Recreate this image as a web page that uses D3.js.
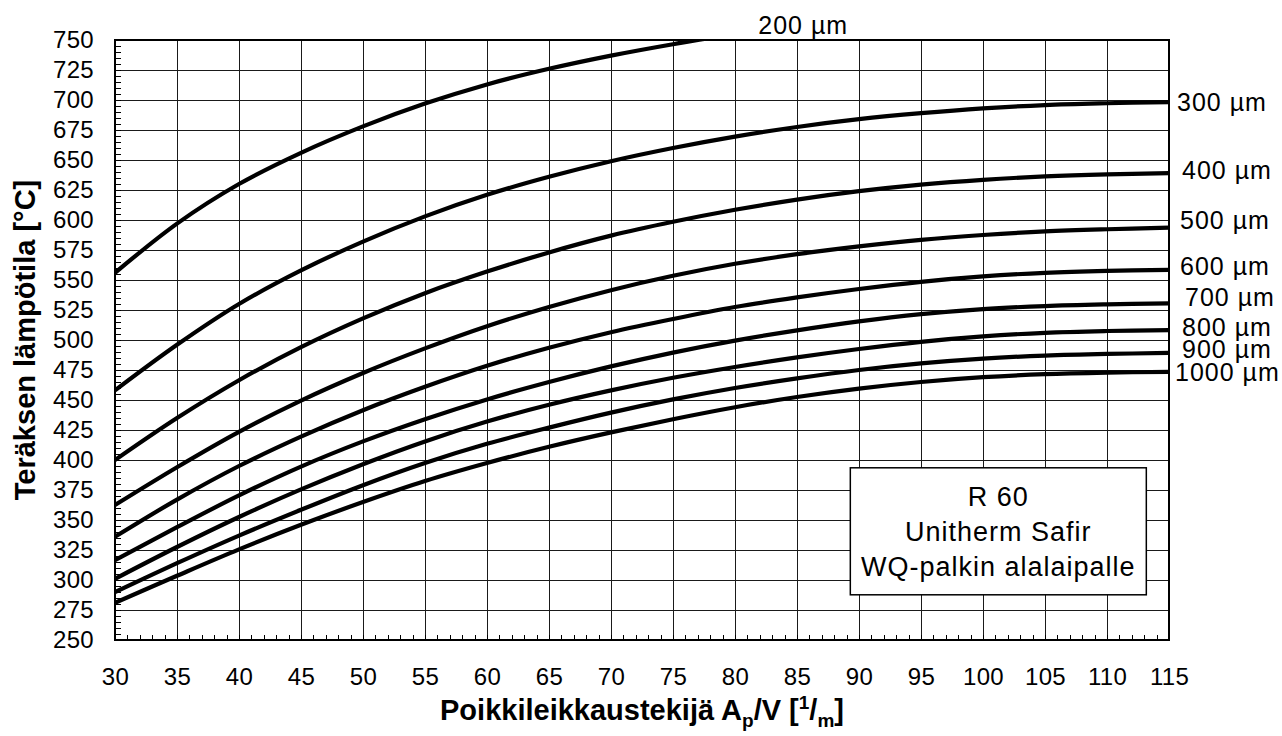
<!DOCTYPE html>
<html lang="fi">
<head>
<meta charset="UTF-8" />
<title>R 60 Unitherm Safir - WQ-palkin alalaipalle</title>
<script src="https://cdn.jsdelivr.net/npm/d3@7"></script>
<style>
  body { margin: 0; background: #fff; }
  svg { display: block; font-family: "Liberation Sans", Arial, Helvetica, sans-serif; }
  .grid line { stroke: #1a1a1a; stroke-width: 1; shape-rendering: crispEdges; }
  .grid path, .ticklab path, .ticklab line, .minor path { display: none; }
  .ticklab text { font-size: 24px; fill: #000; letter-spacing: 0.3px; }
  .minor line { stroke: #000; stroke-width: 1; shape-rendering: crispEdges; }
  .curve { fill: none; stroke: #000; stroke-width: 4.2; stroke-linejoin: round; }
  .clabel { font-size: 25px; fill: #000; letter-spacing: 1px; }
  .axis-title { font-size: 29px; font-weight: bold; fill: #000; }
  .boxtext { font-size: 27px; fill: #000; letter-spacing: 1px; }
</style>
</head>
<body>
<svg id="chart" width="1282" height="736"></svg>
<script>
// Poikkileikkaustekijä (x) and steel temperature per coating thickness (y)
const apv = [30, 35, 40, 45, 50, 55, 60, 65, 70, 75, 80, 85, 90, 95, 100, 105, 110, 115];
const t200 = [556, 597, 630, 656, 678, 697, 713, 726, 737, 746.5, 755, null, null, null, null, null, null, null];
const t300 = [458, 496, 530, 558, 582, 603, 621, 636, 649, 660, 669.5, 677.5, 684, 689, 693, 695.8, 697.3, 698.3];
const t400 = [400, 435, 466.5, 494, 518, 539, 557, 573, 587, 598.5, 608.5, 617, 624, 629.5, 633.5, 636.3, 638, 639];
const t500 = [362.5, 394, 423.5, 449.5, 472.5, 493, 511.5, 527.5, 541.5, 553.5, 563.5, 571.5, 578, 583.5, 587.5, 590.5, 592.3, 593.6];
const t600 = [336, 367, 395, 419.5, 441.5, 461, 478.5, 493.5, 506.5, 517.5, 527.5, 535.5, 542.5, 548.5, 553, 556, 557.6, 558.4];
const t700 = [316.5, 344, 370.5, 394.5, 415.5, 434, 450.5, 465, 478, 489.5, 499.5, 508, 515.5, 521.5, 525.8, 528.3, 529.7, 530.6];
const t800 = [301, 327.5, 352.5, 375.5, 396.5, 415.5, 432, 446, 458, 468.5, 477.5, 485.5, 492.5, 498.5, 503, 506, 507.5, 508.3];
const t900 = [290, 314, 337, 358.5, 379, 397.5, 413.5, 427, 439.5, 450.5, 460, 468, 475, 480.5, 484.5, 487, 488.4, 489.2];
const t1000 = [281, 303.5, 325.5, 346, 365, 382.5, 397.5, 411, 423, 434, 444, 452.5, 459.5, 465, 469, 471.5, 472.8, 473.5];

const thicknessLabels = ["200 µm", "300 µm", "400 µm", "500 µm", "600 µm", "700 µm", "800 µm", "900 µm", "1000 µm"];
const xTicks = d3.range(30, 116, 5);
const yTicks = d3.range(250, 751, 25);
const boxLines = ["R 60", "Unitherm Safir", "WQ-palkin alalaipalle"];

const series = [t200, t300, t400, t500, t600, t700, t800, t900, t1000];

const svg = d3.select("#chart");
const margin = { top: 40, right: 113, bottom: 96, left: 115 };
const width = 1282 - margin.left - margin.right;
const height = 736 - margin.top - margin.bottom;

const x = d3.scaleLinear().domain([30, 115]).range([0, width]);
const y = d3.scaleLinear().domain([250, 750]).range([height, 0]);

svg.append("rect").attr("width", 1282).attr("height", 736).attr("fill", "#fff");

const g = svg.append("g").attr("transform", `translate(${margin.left},${margin.top})`);

// grid
g.append("g").attr("class", "grid")
  .attr("transform", `translate(0,${height})`)
  .call(d3.axisBottom(x).tickValues(xTicks).tickSize(-height).tickFormat(""));
g.append("g").attr("class", "grid")
  .call(d3.axisLeft(y).tickValues(yTicks).tickSize(-width).tickFormat(""));

// minor ticks on the inside of the frame
g.append("g").attr("class", "minor")
  .attr("transform", `translate(0,${height})`)
  .call(d3.axisBottom(x).tickValues(d3.range(30, 116, 1)).tickSize(-5).tickFormat(""));
g.append("g").attr("class", "minor")
  .call(d3.axisLeft(y).tickValues(d3.range(250, 751, 5)).tickSize(-6).tickFormat(""));

// tick labels
g.append("g").attr("class", "ticklab")
  .attr("transform", `translate(0,${height})`)
  .call(d3.axisBottom(x).tickValues(xTicks).tickSize(0).tickPadding(28).tickFormat(d3.format("d")));
g.append("g").attr("class", "ticklab")
  .call(d3.axisLeft(y).tickValues(yTicks).tickSize(0).tickPadding(21).tickFormat(d3.format("d")));

// curves
g.append("clipPath").attr("id", "plotclip")
  .append("rect").attr("width", width).attr("height", height);

const line = d3.line()
  .defined(d => d[1] != null)
  .x(d => x(d[0]))
  .y(d => y(d[1]))
  .curve(d3.curveCatmullRom.alpha(0.5));

g.append("g").attr("clip-path", "url(#plotclip)")
  .selectAll("path")
  .data(series)
  .join("path")
  .attr("class", "curve")
  .attr("d", s => line(apv.map((v, i) => [v, s[i]])));

// frame
g.append("rect")
  .attr("width", width).attr("height", height)
  .attr("fill", "none").attr("stroke", "#000").attr("stroke-width", 2);

// curve labels: right of the frame, nudged a little to keep them apart
const labelNudge = [[0, 0], [8, 0], [13, -3], [11, -7], [11, -4], [16, -6], [13, -3], [13, -4], [6, 0]];
series.forEach((s, i) => {
  if (i === 0) {
    g.append("text").attr("class", "clabel")
      .attr("x", x(85.5)).attr("y", y(762))
      .attr("text-anchor", "middle").attr("dy", "0.35em")
      .text(thicknessLabels[i]);
    return;
  }
  g.append("text").attr("class", "clabel")
    .attr("x", width + labelNudge[i][0])
    .attr("y", y(s[s.length - 1]) + labelNudge[i][1])
    .attr("dy", "0.35em")
    .text(thicknessLabels[i]);
});

// info box
const bx = x(89.3), bw = 296, by = y(393.5), bh = 127;
g.append("rect").attr("x", bx).attr("y", by).attr("width", bw).attr("height", bh)
  .attr("fill", "#fff").attr("stroke", "#000").attr("stroke-width", 1.5);
g.selectAll(".boxtext").data(boxLines).join("text")
  .attr("class", "boxtext")
  .attr("x", bx + bw / 2)
  .attr("y", (d, i) => by + 38 + i * 35.3)
  .attr("text-anchor", "middle")
  .text(d => d);

// axis titles
const xt = svg.append("text").attr("class", "axis-title")
  .attr("x", margin.left + width / 2).attr("y", 720)
  .attr("text-anchor", "middle");
xt.append("tspan").text("Poikkileikkaustekijä A");
xt.append("tspan").attr("font-size", 19).attr("dy", 7).text("p");
xt.append("tspan").attr("dy", -7).text("/V [");
xt.append("tspan").attr("font-size", 19).attr("dy", -11).text("1");
xt.append("tspan").attr("dy", 11).text("/");
xt.append("tspan").attr("font-size", 19).attr("dy", 7).text("m");
xt.append("tspan").attr("dy", -7).text("]");

svg.append("text").attr("class", "axis-title")
  .attr("transform", `translate(35,${margin.top + height / 2}) rotate(-90)`)
  .attr("text-anchor", "middle")
  .text("Teräksen lämpötila [°C]");
</script>
</body>
</html>
